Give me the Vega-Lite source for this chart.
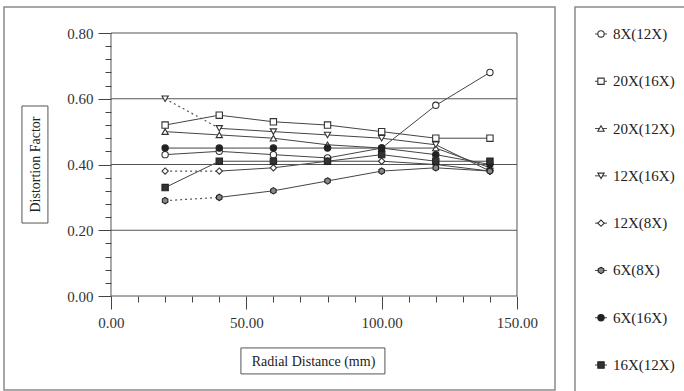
{
  "$schema": "https://vega.github.io/schema/vega-lite/v6.json",
  "background": "white",
  "padding": {"left": 3, "top": 6, "right": 0, "bottom": 0},
  "spacing": 18,
  "config": {
    "view": {"stroke": "#8a8a8a", "strokeWidth": 1.5},
    "font": "Liberation Serif"
  },
  "datasets": {
    "main": [
      {"series": "8X(12X)", "distance": 20, "factor": 0.43},
      {"series": "8X(12X)", "distance": 40, "factor": 0.44},
      {"series": "8X(12X)", "distance": 60, "factor": 0.43},
      {"series": "8X(12X)", "distance": 80, "factor": 0.42},
      {"series": "8X(12X)", "distance": 100, "factor": 0.45},
      {"series": "8X(12X)", "distance": 120, "factor": 0.58},
      {"series": "8X(12X)", "distance": 140, "factor": 0.68},
      {"series": "20X(16X)", "distance": 20, "factor": 0.52},
      {"series": "20X(16X)", "distance": 40, "factor": 0.55},
      {"series": "20X(16X)", "distance": 60, "factor": 0.53},
      {"series": "20X(16X)", "distance": 80, "factor": 0.52},
      {"series": "20X(16X)", "distance": 100, "factor": 0.50},
      {"series": "20X(16X)", "distance": 120, "factor": 0.48},
      {"series": "20X(16X)", "distance": 140, "factor": 0.48},
      {"series": "20X(12X)", "distance": 20, "factor": 0.50},
      {"series": "20X(12X)", "distance": 40, "factor": 0.49},
      {"series": "20X(12X)", "distance": 60, "factor": 0.48},
      {"series": "20X(12X)", "distance": 80, "factor": 0.46},
      {"series": "20X(12X)", "distance": 100, "factor": 0.45},
      {"series": "20X(12X)", "distance": 120, "factor": 0.45},
      {"series": "20X(12X)", "distance": 140, "factor": 0.39},
      {"series": "12X(16X)", "distance": 20, "factor": 0.60},
      {"series": "12X(16X)", "distance": 40, "factor": 0.51},
      {"series": "12X(16X)", "distance": 60, "factor": 0.50},
      {"series": "12X(16X)", "distance": 80, "factor": 0.49},
      {"series": "12X(16X)", "distance": 100, "factor": 0.48},
      {"series": "12X(16X)", "distance": 120, "factor": 0.46},
      {"series": "12X(16X)", "distance": 140, "factor": 0.38},
      {"series": "12X(8X)", "distance": 20, "factor": 0.38},
      {"series": "12X(8X)", "distance": 40, "factor": 0.38},
      {"series": "12X(8X)", "distance": 60, "factor": 0.39},
      {"series": "12X(8X)", "distance": 80, "factor": 0.41},
      {"series": "12X(8X)", "distance": 100, "factor": 0.41},
      {"series": "12X(8X)", "distance": 120, "factor": 0.40},
      {"series": "12X(8X)", "distance": 140, "factor": 0.38},
      {"series": "6X(8X)", "distance": 20, "factor": 0.29},
      {"series": "6X(8X)", "distance": 40, "factor": 0.30},
      {"series": "6X(8X)", "distance": 60, "factor": 0.32},
      {"series": "6X(8X)", "distance": 80, "factor": 0.35},
      {"series": "6X(8X)", "distance": 100, "factor": 0.38},
      {"series": "6X(8X)", "distance": 120, "factor": 0.39},
      {"series": "6X(8X)", "distance": 140, "factor": 0.38},
      {"series": "6X(16X)", "distance": 20, "factor": 0.45},
      {"series": "6X(16X)", "distance": 40, "factor": 0.45},
      {"series": "6X(16X)", "distance": 60, "factor": 0.45},
      {"series": "6X(16X)", "distance": 80, "factor": 0.45},
      {"series": "6X(16X)", "distance": 100, "factor": 0.45},
      {"series": "6X(16X)", "distance": 120, "factor": 0.43},
      {"series": "6X(16X)", "distance": 140, "factor": 0.40},
      {"series": "16X(12X)", "distance": 20, "factor": 0.33},
      {"series": "16X(12X)", "distance": 40, "factor": 0.41},
      {"series": "16X(12X)", "distance": 60, "factor": 0.41},
      {"series": "16X(12X)", "distance": 80, "factor": 0.41},
      {"series": "16X(12X)", "distance": 100, "factor": 0.43},
      {"series": "16X(12X)", "distance": 120, "factor": 0.41},
      {"series": "16X(12X)", "distance": 140, "factor": 0.41}
    ]
  },
  "hconcat": [
    {
      "width": 551,
      "height": 383,
      "resolve": {"axis": {"x": "independent", "y": "independent"}},
      "layer": [
        {
          "data": {"name": "main"},
          "transform": [{"filter": "datum.distance > 20 || indexof(['12X(16X)','12X(8X)','6X(8X)'], datum.series) < 0"}],
          "mark": {"type": "line", "color": "#444", "strokeWidth": 1},
          "encoding": {
            "x": {
              "field": "distance", "type": "quantitative",
              "scale": {"domain": [-39.53, 164.04], "nice": false, "zero": false},
              "axis": {
                "title": "Radial Distance (mm)",
                "orient": "bottom",
                "offset": -94,
                "values": [0, 50, 100, 150],
                "format": ".2f",
                "domain": false,
                "grid": false,
                "tickColor": "#444",
                "tickSize": 13,
                "labelFont": "Liberation Serif",
                "labelFontSize": 15,
                "labelColor": "#333",
                "labelPadding": 6,
                "labelOverlap": false,
                "titleFont": "Liberation Serif",
                "titleFontSize": 14,
                "titleFontWeight": "normal",
                "titleColor": "#222",
                "titleX": 309,
                "titleY": 65,
                "titleAlign": "center",
                "titleBaseline": "middle"
              }
            },
            "y": {
              "field": "factor", "type": "quantitative",
              "scale": {"domain": [-0.2859, 0.8791], "nice": false, "zero": false},
              "axis": {
                "title": "Distortion Factor",
                "orient": "left",
                "offset": -107,
                "values": [0, 0.2, 0.4, 0.6, 0.8],
                "format": ".2f",
                "domain": false,
                "grid": false,
                "tickColor": "#444",
                "tickSize": 13,
                "labelFont": "Liberation Serif",
                "labelFontSize": 15,
                "labelColor": "#333",
                "labelPadding": 5,
                "labelOverlap": false,
                "titleFont": "Liberation Serif",
                "titleFontSize": 14,
                "titleFontWeight": "normal",
                "titleColor": "#222",
                "titleX": -76,
                "titleY": 157,
                "titleAngle": -90,
                "titleAlign": "center",
                "titleBaseline": "middle"
              }
            },
            "detail": {"field": "series"}
          }
        },
        {
          "data": {"name": "main"},
          "transform": [{"filter": "datum.distance <= 40 && indexof(['12X(16X)','12X(8X)','6X(8X)'], datum.series) >= 0"}],
          "mark": {"type": "line", "color": "#555", "strokeWidth": 1.2, "strokeDash": [2, 3]},
          "encoding": {
            "x": {
              "field": "distance", "type": "quantitative",
              "axis": {
                "title": null,
                "orient": "bottom",
                "offset": -94,
                "values": [10, 20, 30, 40, 60, 70, 80, 90, 110, 120, 130, 140],
                "labels": false,
                "domain": false,
                "grid": false,
                "tickColor": "#444",
                "tickSize": 6
              }
            },
            "y": {
              "field": "factor", "type": "quantitative",
              "axis": {
                "title": null,
                "orient": "left",
                "offset": -107,
                "values": [0.04, 0.08, 0.12, 0.16, 0.24, 0.28, 0.32, 0.36, 0.44, 0.48, 0.52, 0.56, 0.64, 0.68, 0.72, 0.76],
                "labels": false,
                "domain": false,
                "grid": false,
                "tickColor": "#444",
                "tickSize": 6
              }
            },
            "detail": {"field": "series"}
          }
        },
        {
          "data": {"values": [{"g": 0}, {"g": 0.2}, {"g": 0.4}, {"g": 0.6}, {"g": 0.8}]},
          "mark": {"type": "rule", "color": "#555", "strokeWidth": 1},
          "encoding": {
            "y": {"field": "g", "type": "quantitative", "axis": null},
            "x": {"datum": 0, "type": "quantitative", "axis": null},
            "x2": {"datum": 150}
          }
        },
        {
          "data": {"values": [{"v": 0}, {"v": 150}]},
          "mark": {"type": "rule", "color": "#555", "strokeWidth": 1},
          "encoding": {
            "x": {"field": "v", "type": "quantitative", "axis": null},
            "y": {"datum": 0, "type": "quantitative", "axis": null},
            "y2": {"datum": 0.8}
          }
        },
        {
          "data": {"values": [{"box": "y title"}]},
          "mark": {"type": "rect", "fill": null, "stroke": "#555", "strokeWidth": 1},
          "encoding": {
            "x": {"datum": -32.9, "type": "quantitative", "axis": null},
            "x2": {"datum": -23.3},
            "y": {"datum": 0.222, "type": "quantitative", "axis": null},
            "y2": {"datum": 0.578}
          }
        },
        {
          "data": {"values": [{"box": "x title"}]},
          "mark": {"type": "rect", "fill": null, "stroke": "#555", "strokeWidth": 1},
          "encoding": {
            "x": {"datum": 48.0, "type": "quantitative", "axis": null},
            "x2": {"datum": 101.2},
            "y": {"datum": -0.158, "type": "quantitative", "axis": null},
            "y2": {"datum": -0.237}
          }
        },
        {
          "data": {"name": "main"},
          "mark": {"type": "point", "filled": false, "strokeWidth": 1.1, "opacity": 1},
          "encoding": {
            "x": {"field": "distance", "type": "quantitative", "axis": null},
            "y": {"field": "factor", "type": "quantitative", "axis": null},
            "shape": {
              "field": "series", "type": "nominal", "legend": null,
              "scale": {
                "domain": ["8X(12X)", "20X(16X)", "20X(12X)", "12X(16X)", "12X(8X)", "6X(8X)", "6X(16X)", "16X(12X)"],
                "range": ["circle", "square", "triangle-up", "triangle-down", "diamond", "M0,-1L0.87,-0.5L0.87,0.5L0,1L-0.87,0.5L-0.87,-0.5Z", "circle", "square"]
              }
            },
            "fill": {
              "field": "series", "type": "nominal", "legend": null,
              "scale": {
                "domain": ["8X(12X)", "20X(16X)", "20X(12X)", "12X(16X)", "12X(8X)", "6X(8X)", "6X(16X)", "16X(12X)"],
                "range": ["white", "white", "white", "white", "white", "#888", "#222", "#333"]
              }
            },
            "stroke": {
              "field": "series", "type": "nominal", "legend": null,
              "scale": {
                "domain": ["8X(12X)", "20X(16X)", "20X(12X)", "12X(16X)", "12X(8X)", "6X(8X)", "6X(16X)", "16X(12X)"],
                "range": ["#333", "#333", "#333", "#333", "#333", "#222", "#222", "#222"]
              }
            },
            "size": {
              "field": "series", "type": "nominal", "legend": null,
              "scale": {
                "domain": ["8X(12X)", "20X(16X)", "20X(12X)", "12X(16X)", "12X(8X)", "6X(8X)", "6X(16X)", "16X(12X)"],
                "range": [40, 40, 40, 40, 36, 40, 25, 36]
              }
            }
          }
        }
      ]
    },
    {
      "width": 112,
      "height": 385,
      "data": {"name": "main"},
      "transform": [{"aggregate": [{"op": "count", "as": "n"}], "groupby": ["series"]}],
      "encoding": {
        "y": {
          "field": "series", "type": "ordinal", "axis": null,
          "scale": {
            "type": "point",
            "padding": 0.57,
            "domain": ["8X(12X)", "20X(16X)", "20X(12X)", "12X(16X)", "12X(8X)", "6X(8X)", "6X(16X)", "16X(12X)"]
          }
        }
      },
      "layer": [
        {
          "mark": {"type": "rule", "color": "#444", "strokeWidth": 1},
          "encoding": {
            "x": {"datum": 20, "type": "quantitative", "axis": null, "scale": {"domain": [0, 112], "nice": false, "zero": false}},
            "x2": {"datum": 32}
          }
        },
        {
          "mark": {"type": "point", "filled": false, "strokeWidth": 1.1, "opacity": 1},
          "encoding": {
            "x": {"datum": 26, "type": "quantitative"},
            "shape": {
              "field": "series", "type": "nominal", "legend": null,
              "scale": {
                "domain": ["8X(12X)", "20X(16X)", "20X(12X)", "12X(16X)", "12X(8X)", "6X(8X)", "6X(16X)", "16X(12X)"],
                "range": ["circle", "square", "triangle-up", "triangle-down", "diamond", "M0,-1L0.87,-0.5L0.87,0.5L0,1L-0.87,0.5L-0.87,-0.5Z", "circle", "square"]
              }
            },
            "fill": {
              "field": "series", "type": "nominal", "legend": null,
              "scale": {
                "domain": ["8X(12X)", "20X(16X)", "20X(12X)", "12X(16X)", "12X(8X)", "6X(8X)", "6X(16X)", "16X(12X)"],
                "range": ["white", "white", "white", "white", "white", "#888", "#222", "#333"]
              }
            },
            "stroke": {
              "field": "series", "type": "nominal", "legend": null,
              "scale": {
                "domain": ["8X(12X)", "20X(16X)", "20X(12X)", "12X(16X)", "12X(8X)", "6X(8X)", "6X(16X)", "16X(12X)"],
                "range": ["#333", "#333", "#333", "#333", "#333", "#222", "#222", "#222"]
              }
            },
            "size": {
              "field": "series", "type": "nominal", "legend": null,
              "scale": {
                "domain": ["8X(12X)", "20X(16X)", "20X(12X)", "12X(16X)", "12X(8X)", "6X(8X)", "6X(16X)", "16X(12X)"],
                "range": [30, 30, 30, 30, 28, 30, 20, 28]
              }
            }
          }
        },
        {
          "mark": {"type": "text", "align": "left", "baseline": "middle", "font": "Liberation Serif", "fontSize": 15, "color": "#222"},
          "encoding": {
            "x": {"datum": 38, "type": "quantitative"},
            "text": {"field": "series", "type": "nominal"}
          }
        }
      ]
    }
  ]
}
